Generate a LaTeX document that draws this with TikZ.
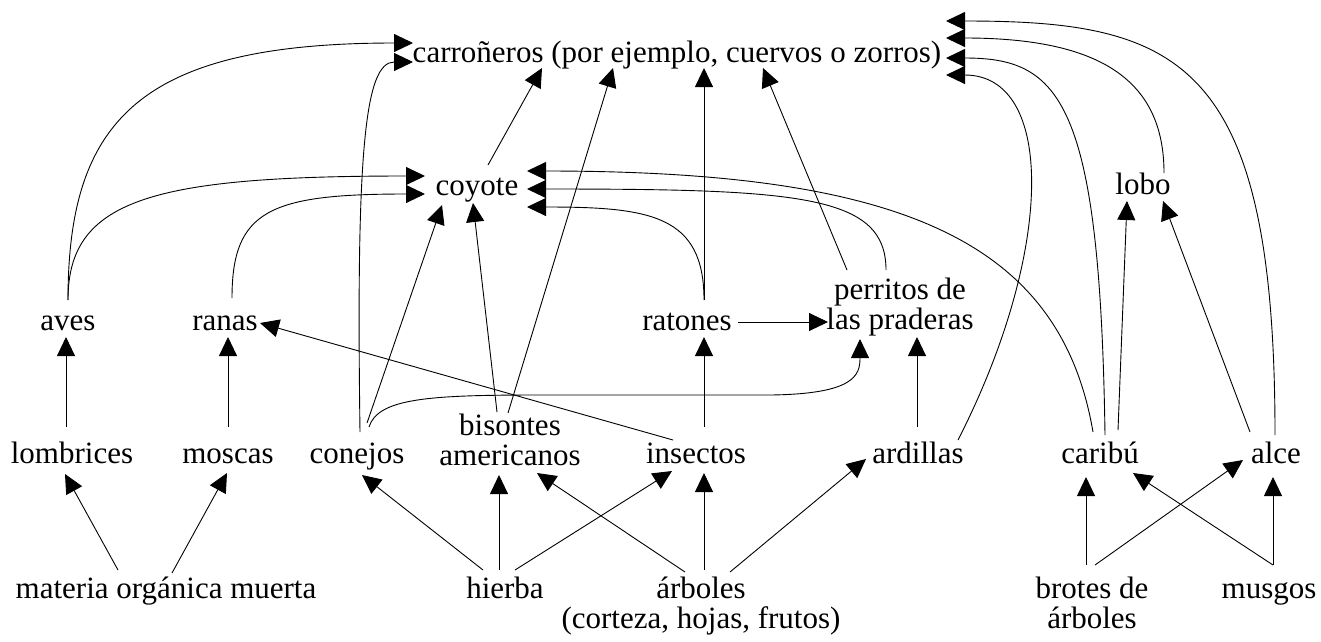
\documentclass[tikz,border=0pt]{standalone}
\usepackage{fontspec}
\setmainfont{Liberation Serif}
\usetikzlibrary{arrows.meta}
\newcommand{\twol}[2]{\begin{tabular}[t]{@{}c@{}}#1\\#2\end{tabular}}
\begin{document}
\begin{tikzpicture}[x=1pt,y=-1pt,
  lbl/.style={anchor=base, inner sep=0pt, font=\fontsize{31}{30}\selectfont},
  edge/.style={line width=0.9pt, -{Triangle[length=19pt,width=18pt]}}]
\useasboundingbox (0,0) rectangle (1321,641);
% nodes
\node[lbl] (carr) at (677,62) {carroñeros (por ejemplo, cuervos o zorros)};
\node[lbl] (coyote) at (477,195) {coyote};
\node[lbl] (lobo) at (1143,194) {lobo};
\node[lbl] (aves) at (68,330) {aves};
\node[lbl] (ranas) at (225,330) {ranas};
\node[lbl] (ratones) at (687,330) {ratones};
\node[lbl] (perr) at (900,299) {\twol{perritos de}{las praderas}};
\node[lbl] (lomb) at (72,463) {lombrices};
\node[lbl] (moscas) at (228,463) {moscas};
\node[lbl] (conejos) at (357,463) {conejos};
\node[lbl] (bis) at (510,435) {\twol{bisontes}{americanos}};
\node[lbl] (insectos) at (696,463) {insectos};
\node[lbl] (ardillas) at (918,463) {ardillas};
\node[lbl] (caribu) at (1100,463) {caribú};
\node[lbl] (alce) at (1276,463) {alce};
\node[lbl] (materia) at (166,598) {materia orgánica muerta};
\node[lbl] (hierba) at (505,598) {hierba};
\node[lbl] (arboles) at (701,598) {\twol{árboles}{(corteza, hojas, frutos)}};
\node[lbl] (brotes) at (1092,598) {\twol{brotes de}{árboles}};
\node[lbl] (musgos) at (1269,598) {musgos};
% into carroñeros
\draw[edge] ([shift={(0,-30)}]aves.base) .. controls (68,120) and (140,43) .. ([shift={(-264,-19)}]carr.base);
\draw[edge] ([shift={(3,-31)}]conejos.base) .. controls (356,150) and (365,62) .. ([shift={(-264,0)}]carr.base);
\draw[edge] ([shift={(11,-30)}]coyote.base) -- ([shift={(-135,6)}]carr.base);
\draw[edge] ([shift={(-2,-22)}]bis.base) -- ([shift={(-64,6)}]carr.base);
\draw[edge] ([shift={(17,-30)}]ratones.base) -- ([shift={(27,6)}]carr.base);
\draw[edge] ([shift={(-53,-29)}]perr.base) -- ([shift={(86,6)}]carr.base);
\draw[edge] ([shift={(40,-23)}]ardillas.base) .. controls (1055,250) and (1055,75) .. ([shift={(269,13)}]carr.base);
\draw[edge] ([shift={(5,-28)}]caribu.base) .. controls (1100,100) and (1060,58) .. ([shift={(269,-4)}]carr.base);
\draw[edge] ([shift={(21,-21)}]lobo.base) .. controls (1164,80) and (1100,38) .. ([shift={(269,-24)}]carr.base);
\draw[edge] ([shift={(-1,-28)}]alce.base) .. controls (1275,60) and (1180,21) .. ([shift={(269,-41)}]carr.base);
% into coyote
\draw[edge] ([shift={(0,-30)}]aves.base) .. controls (68,200) and (150,176) .. ([shift={(-52,-19)}]coyote.base);
\draw[edge] ([shift={(7,-32)}]ranas.base) .. controls (232,210) and (270,194) .. ([shift={(-52,-1)}]coyote.base);
\draw[edge] ([shift={(-7,-31)}]caribu.base) .. controls (1060,240) and (900,171) .. ([shift={(50,-24)}]coyote.base);
\draw[edge] ([shift={(-14,-29)}]perr.base) .. controls (886,195) and (800,189) .. ([shift={(50,-6)}]coyote.base);
\draw[edge] ([shift={(17,-30)}]ratones.base) .. controls (704,215) and (650,207) .. ([shift={(50,12)}]coyote.base);
\draw[edge] ([shift={(10,-40)}]conejos.base) -- ([shift={(-35,10)}]coyote.base);
\draw[edge] ([shift={(-13,-23)}]bis.base) -- ([shift={(-4,8)}]coyote.base);
% into lobo
\draw[edge] ([shift={(18,-33)}]caribu.base) -- ([shift={(-16,7)}]lobo.base);
\draw[edge] ([shift={(-26,-31)}]alce.base) -- ([shift={(20,7)}]lobo.base);
% into aves, ranas, ratones, perritos
\draw[edge] ([shift={(-6,-36)}]lomb.base) -- ([shift={(-2,7)}]aves.base);
\draw[edge] ([shift={(0,-36)}]moscas.base) -- ([shift={(3,7)}]ranas.base);
\draw[edge] ([shift={(-23,-23)}]insectos.base) -- ([shift={(35,-7)}]ranas.base);
\draw[edge] ([shift={(8,-36)}]insectos.base) -- ([shift={(17,7)}]ratones.base);
\draw[edge] ([shift={(51,-8)}]ratones.base) -- ([shift={(-72,23)}]perr.base);
\draw[edge] ([shift={(12,-36)}]conejos.base) .. controls (378,398) and (430,395) .. (540,395) -- (770,395) .. controls (855,394) and (860,375) .. ([shift={(-40,40)}]perr.base);
\draw[edge] ([shift={(-1,-36)}]ardillas.base) -- ([shift={(17,38)}]perr.base);
% bottom row
\draw[edge] ([shift={(-22,-28)}]hierba.base) -- ([shift={(5,12)}]conejos.base);
\draw[edge] ([shift={(-6,-28)}]hierba.base) -- ([shift={(-11,40)}]bis.base);
\draw[edge] ([shift={(-16,-26)}]arboles.base) -- ([shift={(27,38)}]bis.base);
\draw[edge] ([shift={(10,-28)}]hierba.base) -- ([shift={(-24,8)}]insectos.base);
\draw[edge] ([shift={(3,-28)}]arboles.base) -- ([shift={(8,10)}]insectos.base);
\draw[edge] ([shift={(29,-26)}]arboles.base) -- ([shift={(-52,-4)}]ardillas.base);
\draw[edge] ([shift={(-48,-28)}]materia.base) -- ([shift={(-7,11)}]lomb.base);
\draw[edge] ([shift={(6,-25)}]materia.base) -- ([shift={(-1,10)}]moscas.base);
\draw[edge] ([shift={(-6,-33)}]brotes.base) -- ([shift={(-14,14)}]caribu.base);
\draw[edge] ([shift={(3,-33)}]brotes.base) -- ([shift={(-33,-3)}]alce.base);
\draw[edge] ([shift={(4,-33)}]musgos.base) -- ([shift={(33,10)}]caribu.base);
\draw[edge] ([shift={(4,-33)}]musgos.base) -- ([shift={(-3,14)}]alce.base);
\end{tikzpicture}
\end{document}
